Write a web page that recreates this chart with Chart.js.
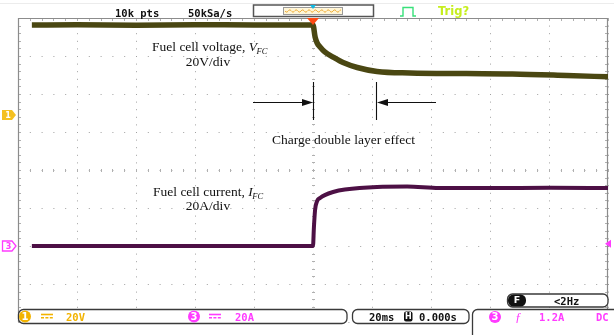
<!DOCTYPE html>
<html>
<head>
<meta charset="utf-8">
<script src="https://cdn.jsdelivr.net/npm/chart.js@4.4.1/dist/chart.umd.min.js"></script>
<style>
  html,body{margin:0;padding:0;background:#fff;}
  #wrap{width:614px;height:335px;}
</style>
</head>
<body>
<div id="wrap"><canvas id="c" width="614" height="335"></canvas></div>
<script>
// ---- data (time in ms, trigger at 0) ----
const voltTime = [-95.3, -80, -60, -40, -20, 0, 0.7, 1.4, 2.4, 4, 6.8, 10.2, 15, 21.7, 32.9, 52, 67.6, 86, 100];
const voltValues = [47.4, 47.5, 47.3, 47.5, 47.4, 47.4, 41.1, 37.9, 35.8, 33.2, 30.5, 27.6, 25.0, 22.9, 22.1, 21.8, 21.6, 20.8, 20.1];
const currTime = [-95.3, -80, -60, -40, -20, 0, 0.3, 0.7, 1.4, 2.4, 4, 6.8, 10.8, 21.7, 31.9, 42.7, 60, 80, 100];
const currValues = [0, 0, 0, 0, 0, 0, 9.5, 18.9, 23.7, 25.3, 26.8, 28.4, 29.7, 31.1, 31.3, 30.5, 30.5, 30.6, 30.5];

// scope settings
const timeDiv = 20;      // ms/div
const voltDiv = 20;      // V/div
const currDiv = 20;      // A/div
const ch1Offset = 1.447; // divisions above centre
const ch3Offset = -2;    // divisions (below centre)

const toXY = (xs, ys) => xs.map((x, i) => ({x: x, y: ys[i]}));

const YELLOW = '#f2b300';
const PINK = '#ff3cff';
const MONO = 'bold 10.5px "DejaVu Sans Mono"';

function roundRect(ctx, x, y, w, h, r) {
  ctx.beginPath();
  ctx.moveTo(x + r, y);
  ctx.lineTo(x + w - r, y);
  ctx.arcTo(x + w, y, x + w, y + r, r);
  ctx.lineTo(x + w, y + h - r);
  ctx.arcTo(x + w, y + h, x + w - r, y + h, r);
  ctx.lineTo(x + r, y + h);
  ctx.arcTo(x, y + h, x, y + h - r, r);
  ctx.lineTo(x, y + r);
  ctx.arcTo(x, y, x + r, y, r);
  ctx.closePath();
}

function dcSymbol(ctx, x, y, color) {
  ctx.save();
  ctx.strokeStyle = color; ctx.lineWidth = 1.6;
  ctx.beginPath(); ctx.moveTo(x, y - 1.5); ctx.lineTo(x + 12, y - 1.5); ctx.stroke();
  ctx.beginPath();
  for (let i = 0; i < 3; i++) { ctx.moveTo(x + i * 4.4, y + 1.8); ctx.lineTo(x + i * 4.4 + 3, y + 1.8); }
  ctx.stroke();
  ctx.restore();
}

function circleLabel(ctx, cx, cy, r, fill, txt) {
  ctx.save();
  ctx.fillStyle = fill;
  ctx.beginPath(); ctx.arc(cx, cy, r, 0, Math.PI * 2); ctx.fill();
  ctx.fillStyle = '#fff'; ctx.font = 'bold 10px "DejaVu Sans"';
  ctx.textAlign = 'center'; ctx.textBaseline = 'middle';
  ctx.fillText(txt, cx, cy + 0.5);
  ctx.restore();
}

function arrowHead(ctx, tipX, y, dir) {
  ctx.beginPath();
  ctx.moveTo(tipX, y);
  ctx.lineTo(tipX - dir * 11, y - 3.4);
  ctx.lineTo(tipX - dir * 11, y + 3.4);
  ctx.closePath();
  ctx.fill();
}

const scopePlugin = {
  id: 'scope',
  beforeDatasetsDraw(chart) {
    const {ctx, chartArea: a, scales} = chart;
    const x = scales.x, y = scales.yI;
    const cx = x.getPixelForValue(0);
    const cy = y.getPixelForValue(40);
    const minorX = (x.getPixelForValue(timeDiv) - x.getPixelForValue(0)) / 5;
    const minorY = (y.getPixelForValue(0) - y.getPixelForValue(currDiv)) / 5;
    ctx.save();
    ctx.strokeStyle = '#b0b0b0';
    ctx.lineWidth = 1;
    // centre-line ticks
    ctx.beginPath();
    for (let yy = a.top; yy <= a.bottom + 0.1; yy += minorY) {
      ctx.moveTo(Math.round(cx) - 1, Math.round(yy) + 0.5); ctx.lineTo(Math.round(cx) + 2, Math.round(yy) + 0.5);
    }
    for (let xx = a.left; xx <= a.right + 0.1; xx += minorX) {
      ctx.moveTo(Math.round(xx) + 0.5, Math.round(cy) - 1); ctx.lineTo(Math.round(xx) + 0.5, Math.round(cy) + 2);
      // top border ticks
      ctx.moveTo(Math.round(xx) + 0.5, a.top); ctx.lineTo(Math.round(xx) + 0.5, a.top + 3);
    }
    for (let yy = a.top; yy <= a.bottom + 0.1; yy += minorY) {
      ctx.moveTo(a.left, Math.round(yy) + 0.5); ctx.lineTo(a.left + 3, Math.round(yy) + 0.5);
      ctx.moveTo(a.right, Math.round(yy) + 0.5); ctx.lineTo(a.right - 3, Math.round(yy) + 0.5);
    }
    ctx.stroke();
    // border
    ctx.strokeStyle = '#8c8c8c';
    ctx.lineWidth = 1.2;
    ctx.beginPath();
    ctx.moveTo(a.left + 0.5, a.bottom); ctx.lineTo(a.left + 0.5, a.top + 0.5);
    ctx.lineTo(a.right - 0.5, a.top + 0.5); ctx.lineTo(a.right - 0.5, a.bottom);
    ctx.stroke();
    ctx.restore();
  },
  afterDatasetsDraw(chart) {
    const {ctx, chartArea: a, scales} = chart;
    const tx = scales.x.getPixelForValue(0);
    ctx.save();
    // faint top separator
    ctx.strokeStyle = '#ececec'; ctx.lineWidth = 1;
    ctx.beginPath(); ctx.moveTo(0, 3.5); ctx.lineTo(614, 3.5); ctx.stroke();

    // trigger position marker
    ctx.fillStyle = '#ff4a12';
    ctx.beginPath(); ctx.moveTo(tx - 6, a.top); ctx.lineTo(tx + 6, a.top); ctx.lineTo(tx, a.top + 7); ctx.closePath(); ctx.fill();

    // header texts
    ctx.fillStyle = '#111'; ctx.font = MONO; ctx.textBaseline = 'alphabetic'; ctx.textAlign = 'left';
    ctx.fillText('10k pts', 115, 17);
    ctx.fillText('50kSa/s', 188, 17);
    // memory box
    ctx.strokeStyle = '#555'; ctx.lineWidth = 1.5;
    ctx.strokeRect(253.5, 5, 120, 11.5);
    ctx.fillStyle = '#fff6d8';
    ctx.fillRect(283, 7, 59, 7);
    ctx.strokeStyle = '#9a9a9a'; ctx.lineWidth = 1;
    ctx.strokeRect(283.5, 7.5, 59, 7);
    ctx.strokeStyle = '#f0b040'; ctx.lineWidth = 1;
    ctx.beginPath();
    for (let xx = 285; xx <= 341; xx += 1) {
      const yy = 11 + Math.sin((xx - 285) / 3.2 * Math.PI) * 1.2;
      if (xx === 285) ctx.moveTo(xx, yy); else ctx.lineTo(xx, yy);
    }
    ctx.stroke();
    ctx.fillStyle = '#10b8e0';
    ctx.beginPath(); ctx.moveTo(tx - 3, 5); ctx.lineTo(tx + 3, 5); ctx.lineTo(tx, 9); ctx.closePath(); ctx.fill();
    // trigger pulse symbol
    ctx.strokeStyle = '#38e07a'; ctx.lineWidth = 1.4;
    ctx.beginPath(); ctx.moveTo(400, 16); ctx.lineTo(403, 16); ctx.lineTo(403, 7.5); ctx.lineTo(413, 7.5); ctx.lineTo(413, 16); ctx.lineTo(416, 16); ctx.stroke();
    ctx.fillStyle = '#c6ee1e'; ctx.font = 'bold 11.5px "DejaVu Sans"';
    ctx.fillText('Trig?', 438, 15);

    // channel markers
    const y1 = scales.yV.getPixelForValue(0);
    ctx.fillStyle = '#f4c020';
    ctx.beginPath(); ctx.moveTo(2, y1 - 5); ctx.lineTo(12, y1 - 5); ctx.lineTo(16, y1); ctx.lineTo(12, y1 + 5); ctx.lineTo(2, y1 + 5); ctx.closePath(); ctx.fill();
    ctx.fillStyle = '#fff'; ctx.font = 'bold 8px "DejaVu Sans"'; ctx.textAlign = 'center'; ctx.textBaseline = 'middle';
    ctx.fillText('1', 8, y1 + 0.5);
    const y3 = scales.yI.getPixelForValue(0);
    ctx.fillStyle = '#fff'; ctx.strokeStyle = PINK; ctx.lineWidth = 1.3;
    ctx.beginPath(); ctx.moveTo(2.5, y3 - 5); ctx.lineTo(12, y3 - 5); ctx.lineTo(16, y3); ctx.lineTo(12, y3 + 5); ctx.lineTo(2.5, y3 + 5); ctx.closePath(); ctx.fill(); ctx.stroke();
    ctx.fillStyle = PINK; ctx.fillText('3', 8.5, y3 + 0.5);
    // trigger level marker (right)
    const tl = scales.yI.getPixelForValue(1.2);
    ctx.fillStyle = PINK;
    ctx.beginPath(); ctx.moveTo(605, tl); ctx.lineTo(611, tl - 4); ctx.lineTo(611, tl + 4); ctx.closePath(); ctx.fill();

    // annotations
    ctx.fillStyle = '#111'; ctx.textBaseline = 'alphabetic'; ctx.textAlign = 'left';
    const serif = '"Liberation Serif", "Times New Roman", serif';
    function label(main, sym, sub, x0, yb) {
      ctx.font = '13.5px ' + serif; ctx.fillText(main, x0, yb);
      let w = ctx.measureText(main).width;
      ctx.font = 'italic 13.5px ' + serif; ctx.fillText(sym, x0 + w, yb);
      w += ctx.measureText(sym).width;
      ctx.font = 'italic 8.5px ' + serif; ctx.fillText(sub, x0 + w - 0.5, yb + 2.5);
    }
    label('Fuel cell voltage, ', 'V', 'FC', 152, 51);
    label('Fuel cell current, ', 'I', 'FC', 153, 196);
    ctx.font = '13.5px ' + serif; ctx.textAlign = 'center';
    ctx.fillText('20V/div', 208, 66);
    ctx.fillText('20A/div', 208, 210);
    ctx.textAlign = 'left';
    ctx.fillText('Charge double layer effect', 272, 144);
    // arrows
    ctx.strokeStyle = '#111'; ctx.fillStyle = '#111'; ctx.lineWidth = 1.1;
    ctx.beginPath();
    ctx.moveTo(253, 102.5); ctx.lineTo(303, 102.5);
    ctx.moveTo(313.5, 82); ctx.lineTo(313.5, 120);
    ctx.moveTo(376.5, 82); ctx.lineTo(376.5, 120);
    ctx.moveTo(387, 102.5); ctx.lineTo(436, 102.5);
    ctx.stroke();
    arrowHead(ctx, 313, 102.5, 1);
    arrowHead(ctx, 377, 102.5, -1);
    ctx.restore();
  },
  afterDraw(chart) {
    const {ctx} = chart;
    ctx.save();
    ctx.lineWidth = 1.3; ctx.strokeStyle = '#3a3a3a'; ctx.fillStyle = '#fff';
    // F box
    roundRect(ctx, 507.5, 294, 100.5, 13, 5); ctx.fill(); ctx.stroke();
    ctx.fillStyle = '#111';
    roundRect(ctx, 508, 294.5, 18, 12, 5.5); ctx.fill();
    ctx.fillStyle = '#fff'; ctx.font = 'bold 9.5px "DejaVu Sans"'; ctx.textAlign = 'center'; ctx.textBaseline = 'middle';
    ctx.fillText('F', 517, 301);
    ctx.fillStyle = '#111'; ctx.font = MONO; ctx.textAlign = 'left'; ctx.textBaseline = 'alphabetic';
    ctx.fillText('<2Hz', 554, 305);
    // bottom boxes
    ctx.fillStyle = '#fff';
    roundRect(ctx, 18.5, 309.5, 328.5, 14, 5); ctx.fill(); ctx.stroke();
    roundRect(ctx, 352.5, 309.5, 116.5, 14, 5); ctx.fill(); ctx.stroke();
    roundRect(ctx, 472.5, 309.5, 150, 40, 5); ctx.fill(); ctx.stroke();
    // channel 1
    circleLabel(ctx, 25, 316.5, 6, YELLOW, '1');
    dcSymbol(ctx, 41, 316, YELLOW);
    ctx.font = MONO; ctx.fillStyle = YELLOW; ctx.textAlign = 'left'; ctx.textBaseline = 'alphabetic';
    ctx.fillText('20V', 66, 320.5);
    // channel 3
    circleLabel(ctx, 194, 316.5, 6, PINK, '3');
    dcSymbol(ctx, 209, 316, PINK);
    ctx.font = MONO; ctx.fillStyle = PINK;
    ctx.fillText('20A', 235, 320.5);
    // timebase
    ctx.fillStyle = '#111';
    ctx.fillText('20ms', 369, 320.5);
    roundRect(ctx, 404, 311.5, 8.5, 10, 2); ctx.fill();
    ctx.fillStyle = '#fff'; ctx.font = 'bold 8px "DejaVu Sans"'; ctx.textAlign = 'center'; ctx.textBaseline = 'middle';
    ctx.fillText('H', 408.3, 316.8);
    ctx.fillStyle = '#111'; ctx.font = MONO; ctx.textAlign = 'left'; ctx.textBaseline = 'alphabetic';
    ctx.fillText('0.000s', 419, 320.5);
    // trigger settings
    circleLabel(ctx, 495, 317, 6, PINK, '3');
    ctx.fillStyle = PINK; ctx.font = 'italic 13px "Liberation Serif"';
    ctx.fillText('ƒ', 515, 321);
    ctx.font = MONO;
    ctx.fillText('1.2A', 539, 320.5);
    ctx.fillText('DC', 596, 320.5);
    ctx.restore();
  }
};

new Chart(document.getElementById('c'), {
  type: 'line',
  data: {
    datasets: [
      {
        label: 'Fuel cell voltage',
        data: toXY(voltTime, voltValues),
        yAxisID: 'yV',
        borderColor: '#4a4712',
        borderWidth: 5.5,
        pointRadius: 0,
        cubicInterpolationMode: 'monotone',
        fill: false
      },
      {
        label: 'Fuel cell current',
        data: toXY(currTime, currValues),
        yAxisID: 'yI',
        borderColor: '#4d1045',
        borderWidth: 4,
        pointRadius: 0,
        cubicInterpolationMode: 'monotone',
        fill: false
      }
    ]
  },
  options: {
    responsive: false,
    animation: false,
    devicePixelRatio: 1,
    layout: {padding: {left: 18, right: 6, top: 18, bottom: 13}},
    plugins: {legend: {display: false}, tooltip: {enabled: false}},
    scales: {
      x: {
        type: 'linear',
        min: -5 * timeDiv, max: 5 * timeDiv,
        ticks: {display: false, stepSize: timeDiv},
        grid: {color: '#a0a0a0', lineWidth: 1, drawTicks: false},
        border: {display: false, dash: [1, 6.6]}
      },
      yI: {
        type: 'linear', position: 'left',
        min: (-4 - ch3Offset) * currDiv, max: (4 - ch3Offset) * currDiv,
        ticks: {display: false, stepSize: currDiv},
        grid: {color: '#a0a0a0', lineWidth: 1, drawTicks: false},
        border: {display: false, dash: [1, 10.8]}
      },
      yV: {
        type: 'linear', position: 'right', display: false,
        min: (-4 - ch1Offset) * voltDiv, max: (4 - ch1Offset) * voltDiv
      }
    }
  },
  plugins: [scopePlugin]
});
</script>
</body>
</html>
